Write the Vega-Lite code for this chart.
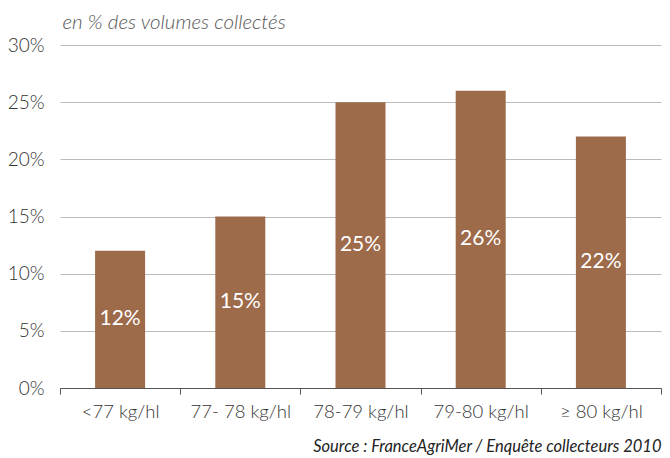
{
  "$schema": "https://vega.github.io/schema/vega-lite/v6.json",
  "width": 601,
  "height": 343,
  "autosize": "none",
  "padding": {"left": 60, "top": 45, "right": 9, "bottom": 70},
  "background": "white",
  "config": {"view": {"stroke": null}, "font": "Lato"},
  "data": {
    "values": [
      {"cat": "<77 kg/hl", "v": 12, "lab": "12%"},
      {"cat": "77- 78 kg/hl", "v": 15, "lab": "15%"},
      {"cat": "78-79 kg/hl", "v": 25, "lab": "25%"},
      {"cat": "79-80 kg/hl", "v": 26, "lab": "26%"},
      {"cat": "≥ 80 kg/hl", "v": 22, "lab": "22%"}
    ]
  },
  "encoding": {
    "x": {
      "field": "cat",
      "type": "nominal",
      "sort": null,
      "scale": {"paddingInner": 0, "paddingOuter": 0},
      "axis": {
        "title": "Source : FranceAgriMer / Enquête collecteurs 2010",
        "titleFont": "Lato",
        "titleFontStyle": "italic",
        "titleFontWeight": "normal",
        "titleFontSize": 16.5,
        "titleColor": "#222",
        "titleAnchor": null,
        "titleX": 601,
        "titleY": 63,
        "titleAlign": "right",
        "titleBaseline": "alphabetic",
        "labelAngle": 0,
        "labelFontSize": 18.5,
        "labelFontWeight": 300,
        "labelColor": "#333",
        "labelPadding": 8,
        "labelBaseline": "top",
        "tickBand": "extent",
        "tickSize": 6,
        "tickColor": "#555",
        "domainColor": "#555",
        "grid": false
      }
    }
  },
  "layer": [
    {
      "mark": {"type": "bar", "width": 50, "color": "#9D6A4A"},
      "encoding": {
        "y": {
          "field": "v",
          "type": "quantitative",
          "scale": {"domain": [0, 30], "nice": false},
          "axis": {
            "values": [0, 5, 10, 15, 20, 25, 30],
            "labelExpr": "datum.value + '%'",
            "labelFontSize": 19,
            "labelFontWeight": 300,
            "labelColor": "#333",
            "labelPadding": 16,
            "ticks": false,
            "domain": false,
            "gridColor": "#bbbbbb",
            "gridWidth": 1.2,
            "title": "en % des volumes collectés",
            "titleFont": "Lato",
            "titleFontStyle": "italic",
            "titleFontWeight": 300,
            "titleFontSize": 20.5,
            "titleColor": "#555",
            "titleAngle": 0,
            "titleAnchor": null,
            "titleX": 2,
            "titleY": -17,
            "titleAlign": "left",
            "titleBaseline": "alphabetic"
          }
        }
      }
    },
    {
      "mark": {"type": "text", "color": "white", "fontSize": 21, "baseline": "middle", "align": "center"},
      "encoding": {
        "y": {"field": "v", "type": "quantitative", "aggregate": "sum", "scale": {"domain": [0, 60], "nice": false}, "axis": null},
        "text": {"field": "lab"}
      }
    }
  ],
  "resolve": {"scale": {"y": "independent"}}
}
